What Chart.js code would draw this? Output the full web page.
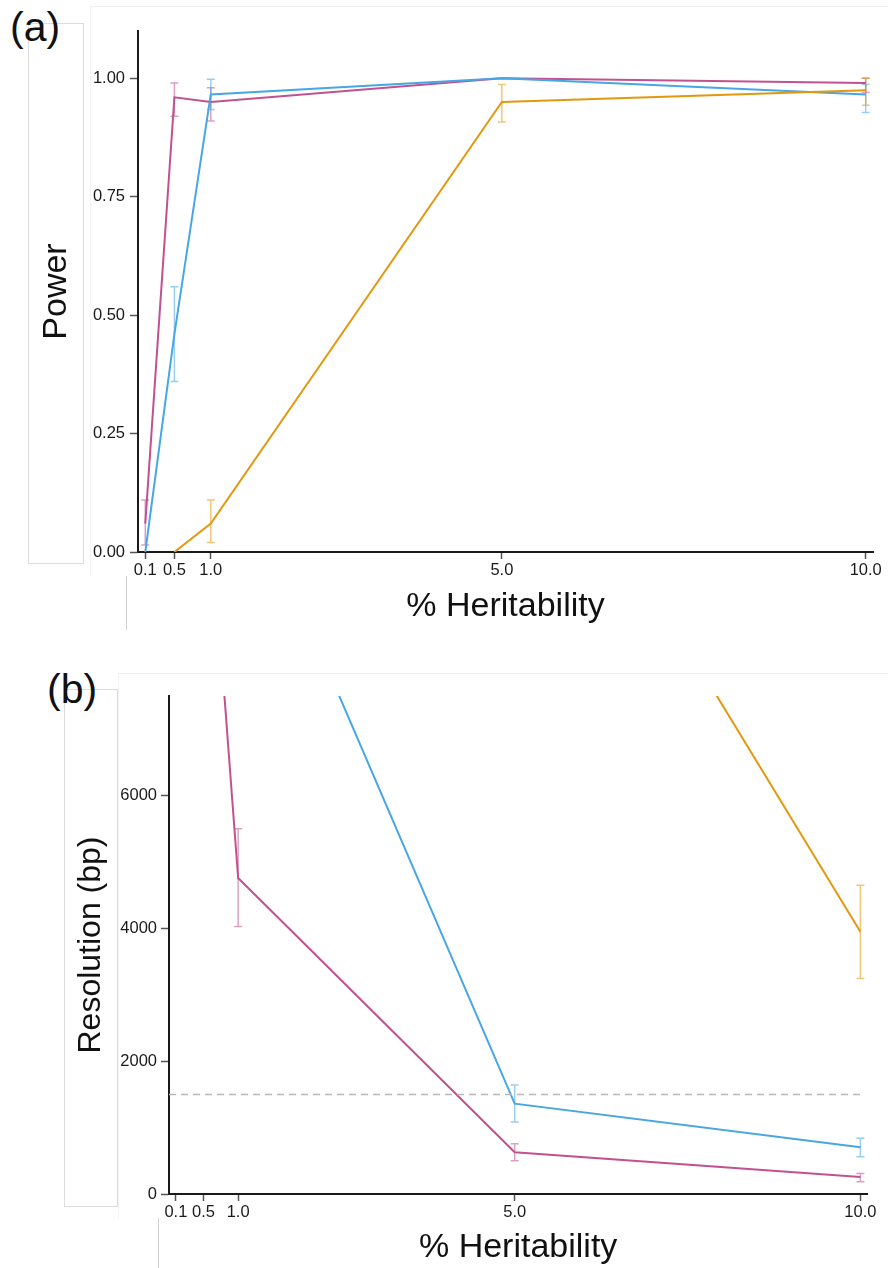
<!DOCTYPE html>
<html>
<head>
<meta charset="utf-8">
<script src="https://cdn.jsdelivr.net/npm/chart.js@4.4.1/dist/chart.umd.min.js"></script>
<style>
body { margin:0; background:#fff; width:888px; height:1268px; position:relative; overflow:hidden; font-family:"Liberation Sans", Arial, sans-serif; }
canvas { position:absolute; left:0; }
#chartA { top:0; }
#chartB { top:640px; }
.lbl { position:absolute; font-size:41px; line-height:41px; color:#111; }
.box { position:absolute; border:1px solid #dcdcdc; }
.panel { position:absolute; border-top:1px solid #eee; border-left:1px solid #f4f4f4; }
.vline { position:absolute; width:0; border-left:1px solid #d0d0d0; }
</style>
</head>
<body>
<div class="panel" style="left:90px;top:6px;width:798px;height:570px"></div>
<div class="box" style="left:28px;top:23px;width:54px;height:539px"></div>
<div class="vline" style="left:126px;top:576px;height:54px"></div>
<div class="lbl" style="left:10px;top:7px">(a)</div>

<div class="panel" style="left:118px;top:673px;width:770px;height:545px"></div>
<div class="box" style="left:64px;top:689px;width:52px;height:516px"></div>
<div class="vline" style="left:158px;top:1218px;height:50px"></div>
<div class="lbl" style="left:47px;top:669px">(b)</div>

<canvas id="chartA" width="888" height="640"></canvas>
<canvas id="chartB" width="888" height="628"></canvas>

<script>
// x positions (% heritability)
var heritability = [0.1, 0.5, 1.0, 5.0, 10.0];

// (a) power, mean and error bar ends
var powerPurple = [0.06, 0.96, 0.95, 1.00, 0.99];
var powerPurpleLo = [0.015, 0.92, 0.91, null, 0.97];
var powerPurpleHi = [0.11, 0.99, 0.98, null, 1.00];
var powerBlue = [0.00, 0.46, 0.966, 1.00, 0.966];
var powerBlueLo = [null, 0.36, 0.934, null, 0.928];
var powerBlueHi = [null, 0.56, 0.998, null, 0.987];
var powerOrange = [null, 0.00, 0.06, 0.95, 0.975];
var powerOrangeLo = [null, null, 0.02, 0.908, 0.943];
var powerOrangeHi = [null, null, 0.11, 0.987, 1.00];
var powerTicks = [0, 0.25, 0.5, 0.75, 1.0];

// (b) resolution in bp
var resPurple = [null, 11670, 4760, 630, 255];
var resPurpleLo = [null, null, 4030, 500, 185];
var resPurpleHi = [null, null, 5500, 755, 310];
var resBlue = [null, null, 11040, 1360, 705];
var resBlueLo = [null, null, null, 1085, 560];
var resBlueHi = [null, null, null, 1640, 840];
var resOrange = [null, null, null, 12500, 3950];
var resOrangeLo = [null, null, null, null, 3245];
var resOrangeHi = [null, null, null, null, 4650];
var resTicks = [0, 2000, 4000, 6000];
var resCutoff = 1500;

var purple = '#C1528F', blue = '#47A6E6', orange = '#E3980E';
var purpleErr = 'rgba(193,82,143,0.55)', blueErr = 'rgba(71,166,230,0.55)', orangeErr = 'rgba(227,152,14,0.55)';
var fontFamily = '"Liberation Sans", Arial, Helvetica, sans-serif';

function points(ys) {
    var out = [];
    heritability.forEach(function(h, i) {
        if (ys[i] != null) out.push({x: h, y: ys[i]});
    });
    return out;
}

function series(ys, color) {
    return { data: points(ys), showLine: true, borderColor: color, borderWidth: 2, pointRadius: 0, tension: 0 };
}

// draws vertical error bars with caps, using the chart scales
function errorBars(sets) {
    return {
        id: 'errorBars',
        beforeDatasetsDraw: function(chart) {
            var ctx = chart.ctx, xs = chart.scales.x, ys = chart.scales.y, a = chart.chartArea;
            ctx.save();
            ctx.beginPath();
            ctx.rect(a.left, a.top, a.right - a.left, a.bottom - a.top);
            ctx.clip();
            sets.forEach(function(s) {
                ctx.strokeStyle = s.color;
                ctx.lineWidth = 1.5;
                heritability.forEach(function(h, i) {
                    if (s.lo[i] == null) return;
                    var x = xs.getPixelForValue(h);
                    var y1 = ys.getPixelForValue(s.lo[i]);
                    var y2 = ys.getPixelForValue(s.hi[i]);
                    ctx.beginPath();
                    ctx.moveTo(x, y1); ctx.lineTo(x, y2);
                    ctx.moveTo(x - 4, y1); ctx.lineTo(x + 4, y1);
                    ctx.moveTo(x - 4, y2); ctx.lineTo(x + 4, y2);
                    ctx.stroke();
                });
            });
            ctx.restore();
        }
    };
}

var tickFont = { family: fontFamily, size: 16.5 };

var chartA = new Chart(document.getElementById('chartA').getContext('2d'), {
    type: 'scatter',
    data: {
        datasets: [
            series(powerOrange, orange),
            series(powerBlue, blue),
            series(powerPurple, purple)
        ]
    },
    options: {
        responsive: false,
        animation: false,
        devicePixelRatio: 1,
        layout: { padding: { left: 0, top: 31, right: 15, bottom: 0 } },
        plugins: { legend: { display: false }, tooltip: { enabled: false } },
        scales: {
            x: {
                type: 'linear', min: 0, max: 10.1,
                afterBuildTicks: function(s) { s.ticks = heritability.map(function(v) { return {value: v}; }); },
                afterFit: function(s) { s.height = 88; },
                grid: { drawOnChartArea: false, tickLength: 7, tickWidth: 1.5, tickColor: '#555' },
                border: { display: true, color: '#1a1a1a', width: 2 },
                ticks: { font: tickFont, color: '#1a1a1a', padding: 2, maxRotation: 0, autoSkip: false,
                    callback: function(v) { return v.toFixed(1); } },
                title: { display: true, text: '% Heritability', color: '#111',
                    font: { family: fontFamily, size: 34 }, padding: { top: 0, bottom: 13 } }
            },
            y: {
                min: 0, max: 1.1,
                afterBuildTicks: function(s) { s.ticks = powerTicks.map(function(v) { return {value: v}; }); },
                afterFit: function(s) { s.width = 138; },
                grid: { drawOnChartArea: false, tickLength: 8, tickWidth: 1.5, tickColor: '#555' },
                border: { display: true, color: '#1a1a1a', width: 2 },
                ticks: { font: tickFont, color: '#1a1a1a', padding: 5,
                    callback: function(v) { return v.toFixed(2); } },
                title: { display: true, text: 'Power', color: '#111',
                    font: { family: fontFamily, size: 34 }, padding: { top: 36, bottom: 0 } }
            }
        }
    },
    plugins: [errorBars([
        { color: purpleErr, lo: powerPurpleLo, hi: powerPurpleHi },
        { color: blueErr, lo: powerBlueLo, hi: powerBlueHi },
        { color: orangeErr, lo: powerOrangeLo, hi: powerOrangeHi }
    ])]
});

var cutoffLine = {
    data: [{x: 0, y: resCutoff}, {x: 10, y: resCutoff}],
    showLine: true, borderColor: '#b8b8b8', borderWidth: 1.5, borderDash: [7, 5], pointRadius: 0
};

var chartB = new Chart(document.getElementById('chartB').getContext('2d'), {
    type: 'scatter',
    data: {
        datasets: [
            cutoffLine,
            series(resOrange, orange),
            series(resBlue, blue),
            series(resPurple, purple)
        ]
    },
    options: {
        responsive: false,
        animation: false,
        devicePixelRatio: 1,
        layout: { padding: { left: 0, top: 56, right: 20.7, bottom: 0 } },
        plugins: { legend: { display: false }, tooltip: { enabled: false } },
        scales: {
            x: {
                type: 'linear', min: 0, max: 10.1,
                afterBuildTicks: function(s) { s.ticks = heritability.map(function(v) { return {value: v}; }); },
                afterFit: function(s) { s.height = 74; },
                grid: { drawOnChartArea: false, tickLength: 7, tickWidth: 1.5, tickColor: '#555' },
                border: { display: true, color: '#1a1a1a', width: 2 },
                ticks: { font: tickFont, color: '#1a1a1a', padding: 2, maxRotation: 0, autoSkip: false,
                    callback: function(v) { return v.toFixed(1); } },
                title: { display: true, text: '% Heritability', color: '#111',
                    font: { family: fontFamily, size: 34 }, padding: { top: 0, bottom: 0 } }
            },
            y: {
                min: 0, max: 7500,
                afterBuildTicks: function(s) { s.ticks = resTicks.map(function(v) { return {value: v}; }); },
                afterFit: function(s) { s.width = 169; },
                grid: { drawOnChartArea: false, tickLength: 8, tickWidth: 1.5, tickColor: '#555' },
                border: { display: true, color: '#1a1a1a', width: 2 },
                ticks: { font: tickFont, color: '#1a1a1a', padding: 4,
                    callback: function(v) { return String(v); } },
                title: { display: true, text: 'Resolution (bp)', color: '#111',
                    font: { family: fontFamily, size: 32 }, padding: { top: 72, bottom: 0 } }
            }
        }
    },
    plugins: [errorBars([
        { color: purpleErr, lo: resPurpleLo, hi: resPurpleHi },
        { color: blueErr, lo: resBlueLo, hi: resBlueHi },
        { color: orangeErr, lo: resOrangeLo, hi: resOrangeHi }
    ])]
});
</script>
</body>
</html>
